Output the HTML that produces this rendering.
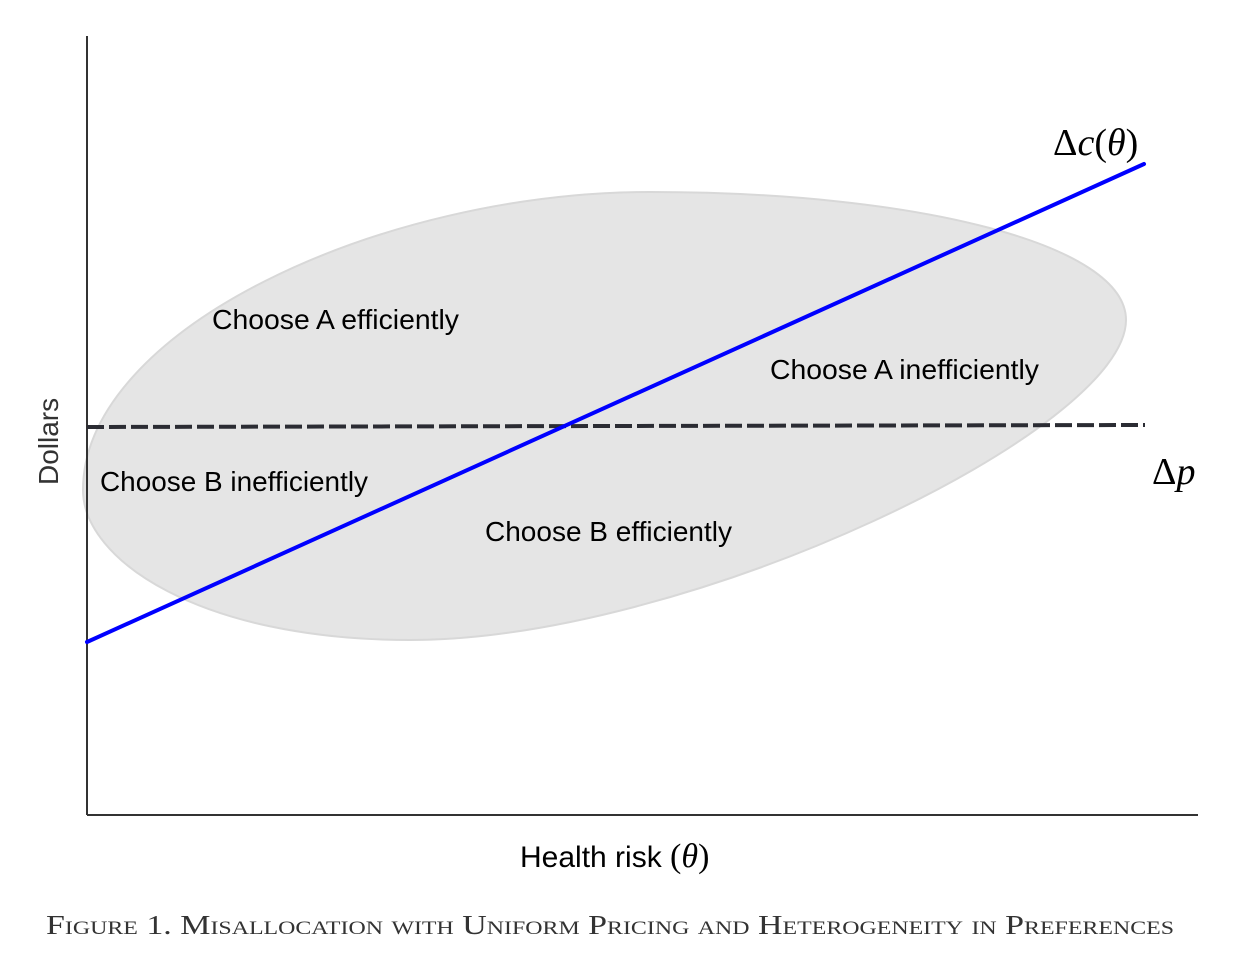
<!DOCTYPE html>
<html><head><meta charset="utf-8"><style>
html,body{margin:0;padding:0;background:#fff;}
svg{display:block;}
</style></head><body>
<svg width="1254" height="960" viewBox="0 0 1254 960" xmlns="http://www.w3.org/2000/svg">
<path d="M 650 192 C 920 192, 1126 245, 1126 320 C 1126 430, 690 640, 410 640 C 200 640, 83 560, 83 490 C 83 330, 380 192, 650 192 Z" fill="#e5e5e5" stroke="#d8d8d8" stroke-width="2"/>
<line x1="87" y1="36" x2="87" y2="815" stroke="#333" stroke-width="2"/>
<line x1="87" y1="815" x2="1198" y2="815" stroke="#333" stroke-width="2"/>
<line x1="87" y1="427" x2="1145" y2="425" stroke="#2b2c33" stroke-width="4" stroke-dasharray="17,5"/>
<line x1="87" y1="642" x2="1144" y2="164" stroke="#0000ff" stroke-width="4" stroke-linecap="round"/>
<g font-family="Liberation Sans, sans-serif" font-size="28" fill="#000">
<text x="212" y="329" textLength="247" lengthAdjust="spacingAndGlyphs">Choose A efficiently</text>
<text x="770" y="379" textLength="269" lengthAdjust="spacingAndGlyphs">Choose A inefficiently</text>
<text x="100" y="491" textLength="268" lengthAdjust="spacingAndGlyphs">Choose B inefficiently</text>
<text x="485" y="541" textLength="247" lengthAdjust="spacingAndGlyphs">Choose B efficiently</text>
<text x="520" y="867" font-size="30">Health risk <tspan font-family="Liberation Serif, serif" font-size="34">(<tspan font-style="italic">θ</tspan>)</tspan></text>
<text transform="translate(58,485) rotate(-90)" font-size="28" fill="#333">Dollars</text>
</g>
<g font-family="Liberation Serif, serif" font-size="38" fill="#000">
<text x="1053" y="155">Δ<tspan font-style="italic">c</tspan>(<tspan font-style="italic">θ</tspan>)</text>
<text x="1152" y="484">Δ<tspan font-style="italic">p</tspan></text>
</g>
<text x="610" y="934" text-anchor="middle" font-family="Liberation Serif, serif" font-size="27" fill="#333" style="font-variant:small-caps" textLength="1128" lengthAdjust="spacingAndGlyphs">Figure 1. Misallocation with Uniform Pricing and Heterogeneity in Preferences</text>
</svg>
</body></html>
